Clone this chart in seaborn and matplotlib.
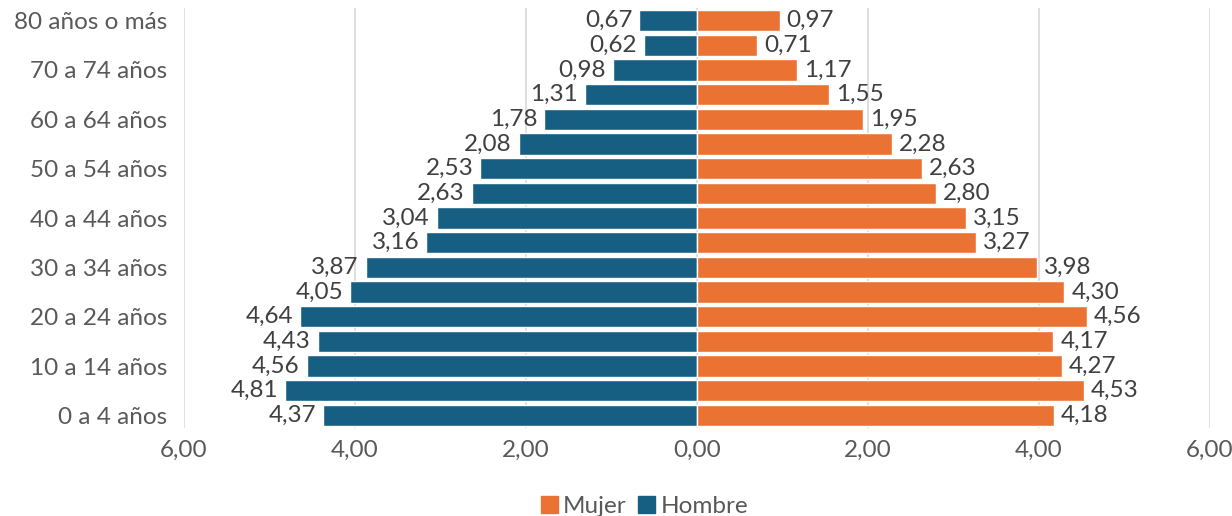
import matplotlib
matplotlib.use("Agg")
import matplotlib.pyplot as plt
import seaborn as sns
import pandas as pd
from matplotlib.patches import Patch

# grupos de edad, de abajo (0 a 4) hacia arriba (80 o mas)
edades = ["0 a 4 años", "5 a 9 años", "10 a 14 años", "15 a 19 años", "20 a 24 años",
          "25 a 29 años", "30 a 34 años", "35 a 39 años", "40 a 44 años", "45 a 49 años",
          "50 a 54 años", "55 a 59 años", "60 a 64 años", "65 a 69 años", "70 a 74 años",
          "75 a 79 años", "80 años o más"]
hombre = [4.37, 4.81, 4.56, 4.43, 4.64, 4.05, 3.87, 3.16, 3.04, 2.63,
          2.53, 2.08, 1.78, 1.31, 0.98, 0.62, 0.67]
mujer = [4.18, 4.53, 4.27, 4.17, 4.56, 4.30, 3.98, 3.27, 3.15, 2.80,
         2.63, 2.28, 1.95, 1.55, 1.17, 0.71, 0.97]
xticks = [-6, -4, -2, 0, 2, 4, 6]

AZUL = "#175F82"
NARANJA = "#EA7333"
TEXTO = "#404040"
GRIS = "#595959"
FS = 17.5

sns.set_theme(style="white")
plt.rcParams["font.family"] = ["Lato", "DejaVu Sans"]

orden = edades[::-1]  # de arriba hacia abajo
df = pd.DataFrame({
    "edad": edades * 2,
    "valor": [-v for v in hombre] + mujer,
    "sexo": ["Hombre"] * len(edades) + ["Mujer"] * len(edades),
})

fig, ax = plt.subplots(figsize=(12.32, 5.16), dpi=100)
fig.subplots_adjust(left=0.149, right=0.982, top=0.984, bottom=0.171)

ax.set_axisbelow(True)
for x in xticks:
    ax.axvline(x, color="#D9D9D9", lw=1.2, zorder=0)

sns.barplot(data=df, x="valor", y="edad", hue="sexo", order=orden,
            hue_order=["Hombre", "Mujer"], palette={"Hombre": AZUL, "Mujer": NARANJA},
            dodge=False, orient="h", width=0.86, edgecolor="white", linewidth=1,
            saturation=1, legend=False, ax=ax)

for cont in ax.containers:
    labels = [f"{abs(b.get_width()):.2f}".replace(".", ",") for b in cont]
    ax.bar_label(cont, labels=labels, padding=5, fontsize=FS, color=TEXTO)

ax.set_xlim(-6, 6)
ax.set_ylim(len(orden) - 0.5, -0.5)
ax.set_xticks(xticks)
ax.set_xticklabels([f"{abs(x):.2f}".replace(".", ",") for x in xticks], fontsize=FS, color=GRIS)
ax.set_yticks(range(0, len(orden), 2))
ax.set_yticklabels(orden[::2], fontsize=FS, color=GRIS)
ax.tick_params(axis="x", length=0, pad=9)
ax.tick_params(axis="y", length=0, pad=12)
ax.set_xlabel("")
ax.set_ylabel("")
for s in ax.spines.values():
    s.set_visible(False)

handles = [Patch(color=NARANJA, label="Mujer"), Patch(color=AZUL, label="Hombre")]
fig.legend(handles=handles, loc="lower center", bbox_to_anchor=(0.523, -0.045), ncol=2,
           frameon=False, fontsize=FS, handlelength=0.7, handleheight=0.7,
           handletextpad=0.2, columnspacing=0.5, labelcolor=GRIS)

fig.savefig("out.png", dpi=100)
